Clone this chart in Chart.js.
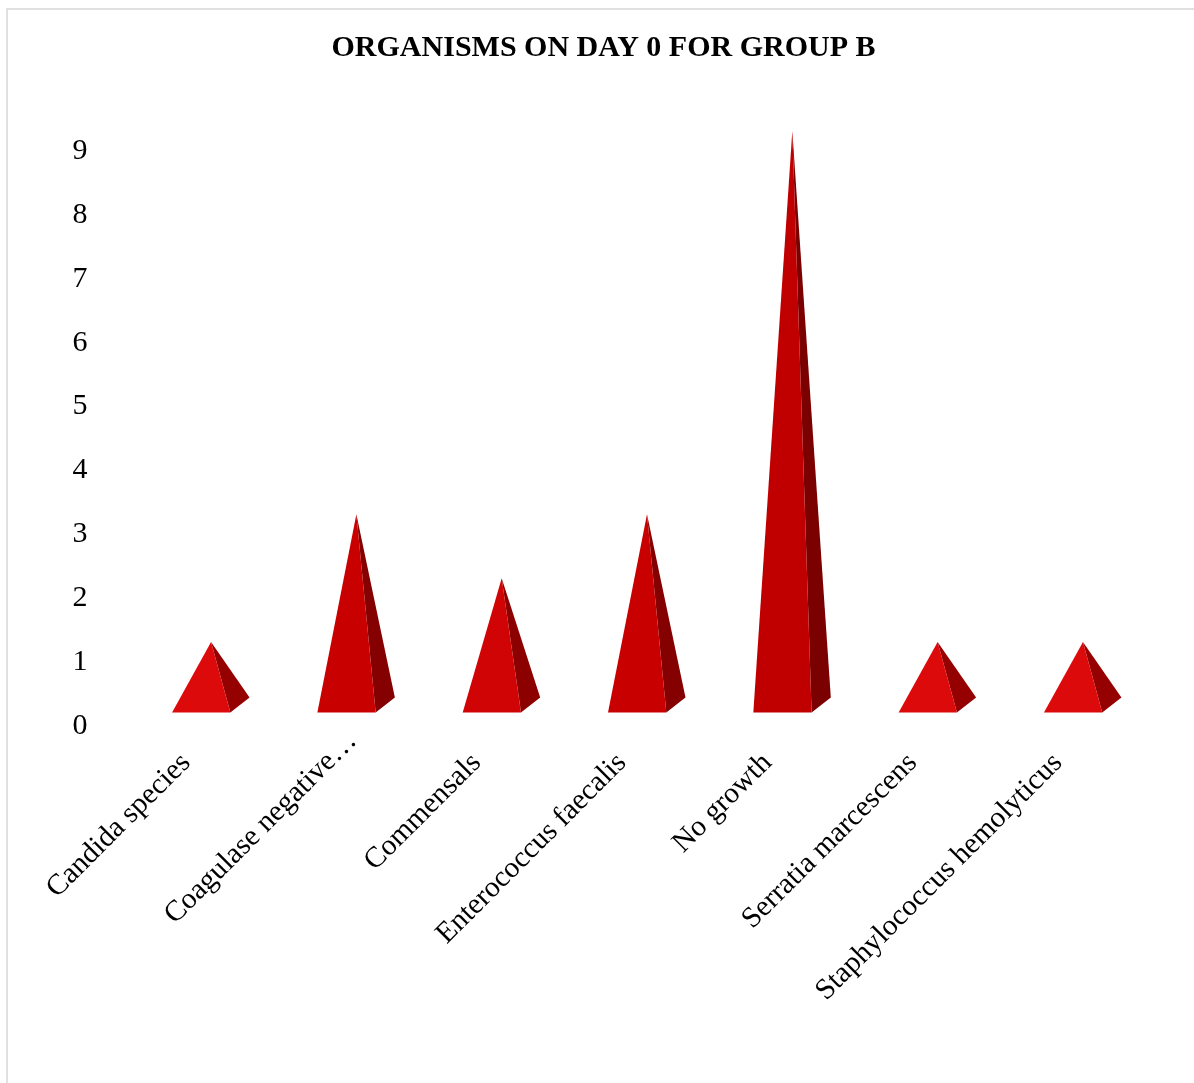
<!DOCTYPE html>
<html><head><meta charset="utf-8">
<style>
html,body{margin:0;padding:0;background:#fff;overflow:hidden}
#frame{position:absolute;left:6px;top:8px;right:-10px;bottom:-10px;border-left:2px solid #e0e0e0;border-top:2px solid #e0e0e0}
#wrap{position:absolute;left:0;top:0;width:1194px;height:1083px}
</style>
<script src="https://cdn.jsdelivr.net/npm/chart.js@4"></script>
</head><body>
<div id="frame"></div>
<div id="wrap"><canvas id="c" width="1194" height="1083"></canvas></div>
<script>
const categories = ["Candida species","Coagulase negative…","Commensals","Enterococcus faecalis","No growth","Serratia marcescens","Staphylococcus hemolyticus"];
const organismCounts = [1,3,2,3,9,1,1];
const yTicks = [0,1,2,3,4,5,6,7,8,9];
const frontColors = ["#dc0a0a","#c80000","#d00404","#c80000","#c00000","#dc0a0a","#dc0a0a"];
const sideColors = ["#950000","#850000","#8c0000","#850000","#7b0000","#950000","#950000"];
const titleText = "ORGANISMS ON DAY 0 FOR GROUP B";

const pyramidPlugin = {
  id: "pyramids",
  afterUpdate(chart) {
    // the truncated label sits further along its own slant than the others
    const item = chart.scales.x.getLabelItems()[1];
    if (item) { item.options.translation[0] += 21; item.options.translation[1] -= 22; }
  },
  afterDatasetsDraw(chart) {
    const ctx = chart.ctx;
    const meta = chart.getDatasetMeta(0);
    const y0 = chart.scales.y.getPixelForValue(0);
    meta.data.forEach((bar, i) => {
      const ax = bar.x, ay = bar.y - 20;
      const baseY = y0 - 13.4, backY = y0 - 28.5;
      const fl = bar.x - 39, fr = bar.x + 19.3, br = bar.x + 38.5;
      ctx.save();
      ctx.beginPath(); ctx.moveTo(ax, ay); ctx.lineTo(fr, baseY); ctx.lineTo(br, backY); ctx.closePath();
      ctx.fillStyle = sideColors[i]; ctx.fill();
      ctx.beginPath(); ctx.moveTo(ax, ay); ctx.lineTo(fl, baseY); ctx.lineTo(fr, baseY); ctx.closePath();
      ctx.fillStyle = frontColors[i]; ctx.fill();
      ctx.restore();
    });
  }
};

new Chart(document.getElementById("c"), {
  type: "bar",
  data: { labels: categories, datasets: [{ label: "Group B", data: organismCounts, backgroundColor: "rgba(0,0,0,0)", borderWidth: 0 }] },
  plugins: [pyramidPlugin],
  options: {
    responsive: false,
    animation: false,
    layout: { padding: { left: 51.4, right: 38.4, top: 0, bottom: 0 } },
    plugins: {
      legend: { display: false },
      tooltip: { enabled: false },
      title: {
        display: true, text: titleText, color: "#000",
        font: { family: "'Liberation Serif'", size: 30, weight: "bold" },
        padding: { top: 30, bottom: 85 }
      }
    },
    scales: {
      x: {
        grid: { display: false, drawTicks: false }, border: { display: false },
        afterFit(s) { s.height = 1083 - 726; },
        ticks: { autoSkip: false, minRotation: 45, maxRotation: 45, color: "#000", padding: 20, labelOffset: -25,
          font: { family: "'Liberation Serif'", size: 29.4 } }
      },
      y: {
        min: 0, max: 9,
        grid: { display: false, drawTicks: false }, border: { display: false },
        afterFit(s) { s.width = 87; },
        afterBuildTicks(s) { s.ticks = yTicks.map(v => ({ value: v })); },
        ticks: { color: "#000", padding: 51, font: { family: "'Liberation Serif'", size: 30 } }
      }
    }
  }
});
</script>
</body></html>
